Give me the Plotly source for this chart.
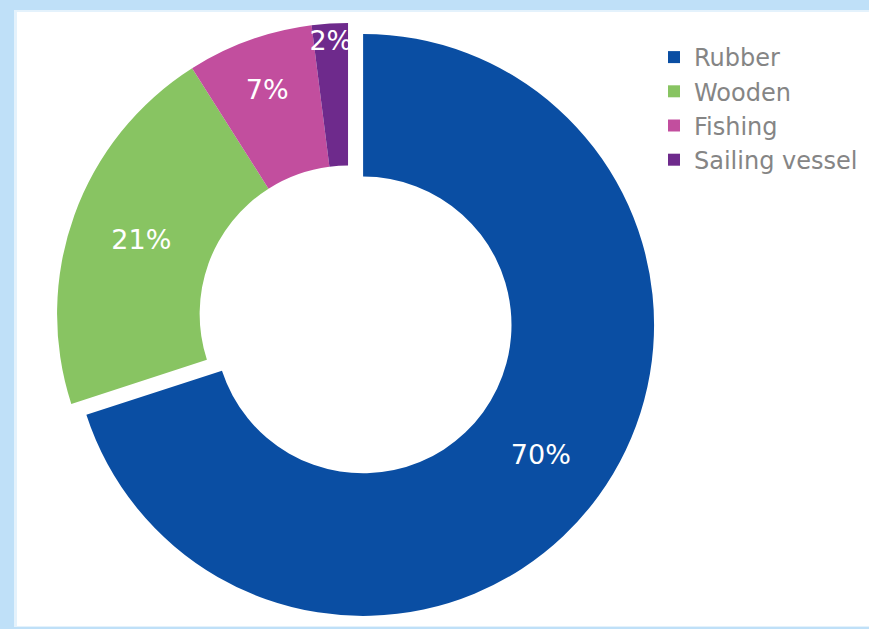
import plotly.graph_objects as go

categories = ["Rubber", "Wooden", "Fishing", "Sailing vessel"]
values = [70, 21, 7, 2]
colors = ["#0A4EA3", "#88C462", "#C24E9E", "#6E2A8C"]
pulls = [0.064, 0, 0, 0]

W, H = 869, 629

fig = go.Figure(go.Pie(
    labels=categories,
    values=values,
    sort=False,
    direction="clockwise",
    rotation=0,
    hole=0.51,
    pull=pulls,
    marker=dict(colors=colors, line=dict(width=0)),
    textinfo="percent",
    texttemplate="%{percent:.0%}",
    textposition="inside",
    insidetextorientation="horizontal",
    textfont=dict(family="DejaVu Sans, sans-serif", size=27, color="white"),
    domain=dict(x=[0.0442, 0.7568], y=[0.0086, 0.9930]),
    hoverinfo="label+percent",
))

# light-blue frame around the picture
fig.add_shape(type="rect", xref="paper", yref="paper", x0=0, x1=1, y0=0, y1=1,
              fillcolor="#BFE0F8", line=dict(width=0), layer="below")
fig.add_shape(type="rect", xref="paper", yref="paper",
              x0=14 / W, x1=1, y0=2 / H, y1=1 - 10 / H,
              fillcolor="#E4F2FC", line=dict(width=0), layer="below")
fig.add_shape(type="rect", xref="paper", yref="paper",
              x0=17 / W, x1=1, y0=3 / H, y1=1 - 12 / H,
              fillcolor="white", line=dict(width=0), layer="below")

fig.update_layout(
    width=W, height=H,
    margin=dict(l=0, r=0, t=0, b=0),
    paper_bgcolor="white",
    plot_bgcolor="white",
    uniformtext=dict(minsize=27, mode="show"),
    legend=dict(
        x=0.7526, y=1 - 35 / H, xanchor="left", yanchor="top",
        font=dict(family="DejaVu Sans, sans-serif", size=24, color="#858585"),
        bgcolor="rgba(0,0,0,0)", borderwidth=0, traceorder="normal",
        itemclick=False,
    ),
    showlegend=True,
)

fig.write_html("out.html")
